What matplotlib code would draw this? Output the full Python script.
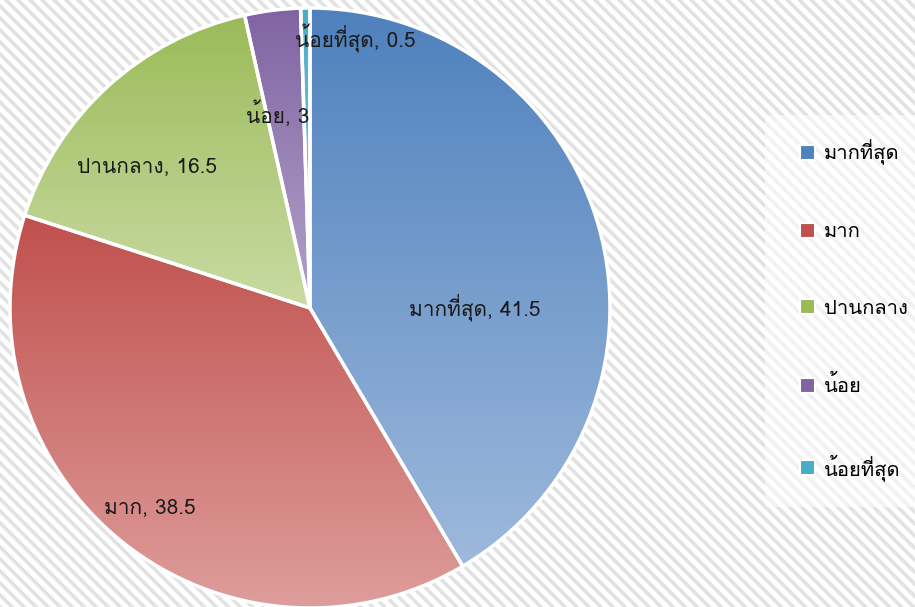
import numpy as np
import matplotlib
matplotlib.use("Agg")
from matplotlib import pyplot as plt
from matplotlib import font_manager, ft2font
from matplotlib.colors import to_rgb

# find a font that has Thai glyphs
thai_font = None
for f in sorted(font_manager.findSystemFonts()):
    try:
        ft = ft2font.FT2Font(f)
        if ft.get_char_index(0x0E21) and ft.get_char_index(0x0E01):
            font_manager.fontManager.addfont(f)
            thai_font = font_manager.FontProperties(fname=f).get_name()
            break
    except Exception:
        pass
families = ([thai_font] if thai_font else []) + ["DejaVu Sans"]
plt.rcParams["font.family"] = families

labels = ["มากที่สุด", "มาก", "ปานกลาง", "น้อย", "น้อยที่สุด"]
values = [41.5, 38.5, 16.5, 3, 0.5]
top_colors = ["#4F81BD", "#C0504D", "#9BBB59", "#8064A2", "#4BACC6"]
bottom_colors = ["#9DB9DC", "#DE9E9C", "#C9DBA3", "#B3A2C9", "#93D0E0"]

W, H = 915, 607
fig = plt.figure(figsize=(W / 100, H / 100), dpi=100)

# striped background
bg = fig.add_axes([0, 0, 1, 1])
bg.set_xlim(0, W)
bg.set_ylim(0, H)
bg.axis("off")
bg.add_patch(plt.Rectangle((0, 0), W, H, color="white", zorder=0))
step = 8.5 * np.sqrt(2)
for c in np.arange(0, W + H + step, step):
    bg.plot([c - H - 10, c + 10], [H + 10, -10], color="#E2E2E2", lw=2.6, zorder=1,
            solid_capstyle="butt")
# lighter backdrop behind the legend
bg.add_patch(plt.Rectangle((765, H - 507), W - 765, 507 - 115, color="white",
                           alpha=0.55, lw=0, zorder=2))

# pie
ax = fig.add_axes([7 / W, -4 / H, 606 / W, 606 / H])
wedges, _ = ax.pie(values, startangle=90, counterclock=False, radius=1,
                   colors=top_colors,
                   wedgeprops=dict(edgecolor="white", linewidth=2.5))

for w, c0, c1 in zip(wedges, top_colors, bottom_colors):
    verts = w.get_path().vertices
    x0, x1 = verts[:, 0].min(), verts[:, 0].max()
    y0, y1 = verts[:, 1].min(), verts[:, 1].max()
    t = np.linspace(0, 1, 256)[:, None]
    a, b = np.array(to_rgb(c0)), np.array(to_rgb(c1))
    grad = (a * (1 - t) + b * t)[:, None, :]
    im = ax.imshow(grad, extent=[x0, x1, y0, y1], origin="upper", aspect="auto",
                   zorder=w.get_zorder() - 0.1)
    im.set_clip_path(w)
    w.set_facecolor("none")
    w.set_zorder(3)
ax.set_xlim(-1.01, 1.01)
ax.set_ylim(-1.01, 1.01)
ax.set_aspect("equal")

# data labels (pixel positions converted to data coords)
label_px = [(475, 308), (150, 508), (147, 167), (278, 114), (355, 38)]
for lab, v, (px, py) in zip(labels, values, label_px):
    dx = (px - 310) / 300
    dy = (308 - py) / 300
    ax.text(dx, dy, f"{lab}, {v:g}", ha="center", va="center", fontsize=15,
            color="#1A1A1A", zorder=5)

# legend
leg = fig.legend(wedges, labels, loc="center left", bbox_to_anchor=(790 / W, 297 / H),
                 frameon=False, fontsize=14.5, handlelength=0.75, handleheight=0.75,
                 handletextpad=0.45, labelspacing=2.85, borderpad=0)
for h, c0 in zip(leg.legend_handles, top_colors):
    h.set_facecolor(c0)
    h.set_edgecolor("white")
    h.set_linewidth(1.5)

fig.savefig("out.png", dpi=100)
